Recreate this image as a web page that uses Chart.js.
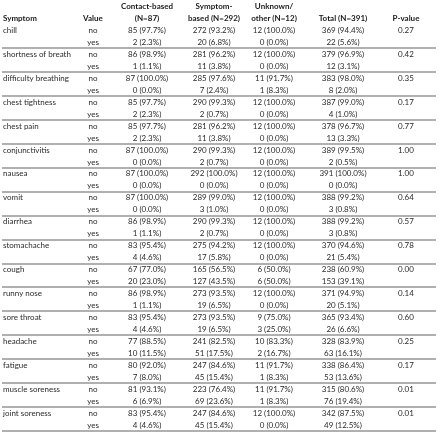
<!DOCTYPE html>
<html>
<head>
<meta charset="utf-8">
<script src="https://cdn.jsdelivr.net/npm/chart.js@4.4.1/dist/chart.umd.min.js"></script>
<style>
  html, body { margin: 0; padding: 0; background: #fff; }
  #wrap { width: 440px; height: 435px; }
</style>
</head>
<body>
<div id="wrap"><canvas id="tabla"></canvas></div>
<script>
var symptoms = ['chill', 'shortness of breath', 'difficulty breathing', 'chest tightness', 'chest pain',
    'conjunctivitis', 'nausea', 'vomit', 'diarrhea', 'stomachache', 'cough', 'runny nose', 'sore throat',
    'headache', 'fatigue', 'muscle soreness', 'joint soreness'];
var contactNo = ['85 (97.7%)', '86 (98.9%)', '87 (100.0%)', '85 (97.7%)', '85 (97.7%)', '87 (100.0%)', '87 (100.0%)',
    '87 (100.0%)', '86 (98.9%)', '83 (95.4%)', '67 (77.0%)', '86 (98.9%)', '83 (95.4%)', '77 (88.5%)', '80 (92.0%)',
    '81 (93.1%)', '83 (95.4%)'];
var contactYes = ['2 (2.3%)', '1 (1.1%)', '0 (0.0%)', '2 (2.3%)', '2 (2.3%)', '0 (0.0%)', '0 (0.0%)', '0 (0.0%)',
    '1 (1.1%)', '4 (4.6%)', '20 (23.0%)', '1 (1.1%)', '4 (4.6%)', '10 (11.5%)', '7 (8.0%)', '6 (6.9%)', '4 (4.6%)'];
var symptomNo = ['272 (93.2%)', '281 (96.2%)', '285 (97.6%)', '290 (99.3%)', '281 (96.2%)', '290 (99.3%)', '292 (100.0%)',
    '289 (99.0%)', '290 (99.3%)', '275 (94.2%)', '165 (56.5%)', '273 (93.5%)', '273 (93.5%)', '241 (82.5%)',
    '247 (84.6%)', '223 (76.4%)', '247 (84.6%)'];
var symptomYes = ['20 (6.8%)', '11 (3.8%)', '7 (2.4%)', '2 (0.7%)', '11 (3.8%)', '2 (0.7%)', '0 (0.0%)', '3 (1.0%)',
    '2 (0.7%)', '17 (5.8%)', '127 (43.5%)', '19 (6.5%)', '19 (6.5%)', '51 (17.5%)', '45 (15.4%)', '69 (23.6%)', '45 (15.4%)'];
var otherNo = ['12 (100.0%)', '12 (100.0%)', '11 (91.7%)', '12 (100.0%)', '12 (100.0%)', '12 (100.0%)', '12 (100.0%)',
    '12 (100.0%)', '12 (100.0%)', '12 (100.0%)', '6 (50.0%)', '12 (100.0%)', '9 (75.0%)', '10 (83.3%)', '11 (91.7%)',
    '11 (91.7%)', '12 (100.0%)'];
var otherYes = ['0 (0.0%)', '0 (0.0%)', '1 (8.3%)', '0 (0.0%)', '0 (0.0%)', '0 (0.0%)', '0 (0.0%)', '0 (0.0%)',
    '0 (0.0%)', '0 (0.0%)', '6 (50.0%)', '0 (0.0%)', '3 (25.0%)', '2 (16.7%)', '1 (8.3%)', '1 (8.3%)', '0 (0.0%)'];
var totalNo = ['369 (94.4%)', '379 (96.9%)', '383 (98.0%)', '387 (99.0%)', '378 (96.7%)', '389 (99.5%)', '391 (100.0%)',
    '388 (99.2%)', '388 (99.2%)', '370 (94.6%)', '238 (60.9%)', '371 (94.9%)', '365 (93.4%)', '328 (83.9%)',
    '338 (86.4%)', '315 (80.6%)', '342 (87.5%)'];
var totalYes = ['22 (5.6%)', '12 (3.1%)', '8 (2.0%)', '4 (1.0%)', '13 (3.3%)', '2 (0.5%)', '0 (0.0%)', '3 (0.8%)',
    '3 (0.8%)', '21 (5.4%)', '153 (39.1%)', '20 (5.1%)', '26 (6.6%)', '63 (16.1%)', '53 (13.6%)', '76 (19.4%)', '49 (12.5%)'];
var pValues = ['0.27', '0.42', '0.35', '0.17', '0.77', '1.00', '1.00', '0.64', '0.57', '0.78', '0.00', '0.14', '0.60',
    '0.25', '0.17', '0.01', '0.01'];

var headers = [
    ['', 'Symptom'],
    ['', 'Value'],
    ['Contact-based', '(N=87)'],
    ['Symptom-', 'based (N=292)'],
    ['Unknown/', 'other (N=12)'],
    ['', 'Total (N=391)'],
    ['', 'P-value']
];

// posicion de cada columna (centro, salvo la primera)
var colX = [3, 93, 147, 214, 274, 343, 406];
var colAlign = ['left', 'center', 'center', 'center', 'center', 'center', 'center'];

var rowKeys = ['h1', 'h2'];
for (var i = 0; i < symptoms.length; i++) {
    rowKeys.push(symptoms[i] + '|no');
    rowKeys.push(symptoms[i] + '|yes');
}

function columna(c, noVals, yesVals) {
    var pts = [];
    pts.push({x: colX[c], y: 'h1', t: headers[c][0], head: true});
    pts.push({x: colX[c], y: 'h2', t: headers[c][1], head: true});
    for (var i = 0; i < symptoms.length; i++) {
        pts.push({x: colX[c], y: symptoms[i] + '|no', t: noVals[i]});
        pts.push({x: colX[c], y: symptoms[i] + '|yes', t: yesVals[i]});
    }
    return {data: pts, align: colAlign[c], pointRadius: 0};
}

var vacios = symptoms.map(function () { return ''; });
var datasets = [
    columna(0, symptoms, vacios),
    columna(1, symptoms.map(function () { return 'no'; }), symptoms.map(function () { return 'yes'; })),
    columna(2, contactNo, contactYes),
    columna(3, symptomNo, symptomYes),
    columna(4, otherNo, otherYes),
    columna(5, totalNo, totalYes),
    columna(6, pValues, vacios)
];

var textoTabla = {
    id: 'textoTabla',
    afterDatasetsDraw: function (chart) {
        var ctx = chart.ctx;
        var puntos = chart.getDatasetMeta(0).data;

        // lineas debajo de cada sintoma (entre la fila yes y la siguiente)
        ctx.save();
        ctx.strokeStyle = '#b0b0b0';
        ctx.lineWidth = 2;
        for (var g = 0; g < symptoms.length; g++) {
            var yes = puntos[3 + 2 * g].y;
            var no = puntos[2 + 2 * g].y;
            var yLinea = Math.round(yes + (yes - no) / 2);
            ctx.beginPath();
            ctx.moveTo(2, yLinea);
            ctx.lineTo(436, yLinea);
            ctx.stroke();
        }

        ctx.textBaseline = 'middle';
        chart.data.datasets.forEach(function (ds, d) {
            var meta = chart.getDatasetMeta(d);
            meta.data.forEach(function (el, j) {
                var cell = ds.data[j];
                if (!cell.t) return;
                ctx.font = cell.head ? 'bold 8px Lato' : '8px Lato';
                ctx.fillStyle = cell.head ? '#1a1a1a' : '#2a2a2a';
                ctx.textAlign = ds.align;
                ctx.fillText(cell.t, el.x, el.y);
            });
        });
        ctx.restore();
    }
};

var ctx = document.getElementById('tabla').getContext('2d');
var tabla = new Chart(ctx, {
    type: 'scatter',
    data: {datasets: datasets},
    options: {
        responsive: true,
        maintainAspectRatio: false,
        animation: false,
        devicePixelRatio: 1,
        layout: {padding: {top: 6.5, bottom: 10, left: 0, right: 0}},
        plugins: {legend: {display: false}, tooltip: {enabled: false}},
        scales: {
            x: {type: 'linear', min: 0, max: 440, display: false},
            y: {type: 'category', labels: rowKeys, offset: false, display: false}
        }
    },
    plugins: [textoTabla]
});
</script>
</body>
</html>
